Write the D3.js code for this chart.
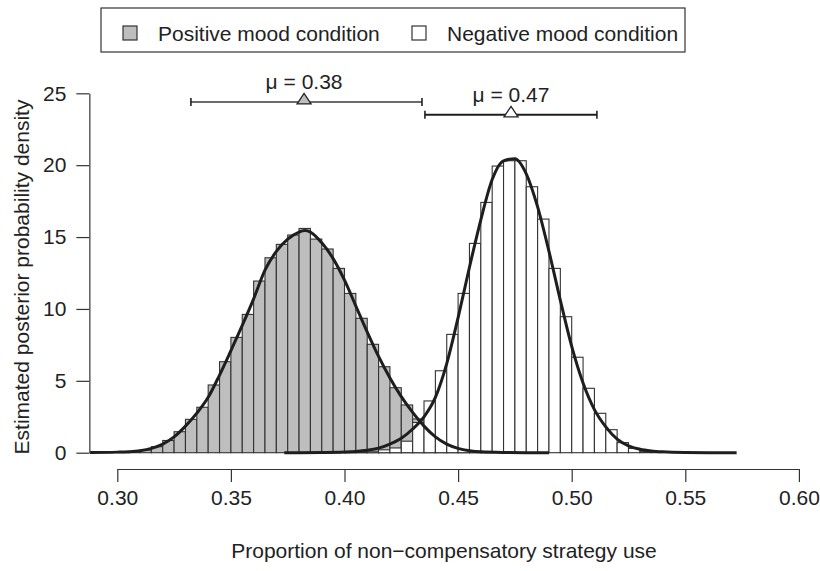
<!DOCTYPE html>
<meta charset="utf-8">
<script src="https://cdn.jsdelivr.net/npm/d3@7"></script>
<style>
	body{margin:0;background:#fff;}
	svg{font-family:"Liberation Sans",Arial,Helvetica,sans-serif;}
	.axis text{font-size:21px;fill:#222;}
	.axis path,.axis line{stroke:#333;stroke-width:1.2;}
</style>
<div id="chart"></div>
<script>
var width = 820
var height = 571

// histogram bins (left edges), width 0.005
var binWidth = 0.005
var posBins = [0.300,0.305,0.310,0.315,0.320,0.325,0.330,0.335,0.340,0.345,0.350,0.355,0.360,0.365,0.370,0.375,0.380,0.385,0.390,0.395,0.400,0.405,0.410,0.415,0.420,0.425,0.430,0.435,0.440,0.445,0.450,0.455,0.460]
var posHeights = [0.03,0.08,0.18,0.42,0.85,1.46,2.32,3.16,4.71,6.33,8.02,9.62,11.94,13.56,14.49,15.14,15.60,14.86,14.17,12.82,11.08,9.35,7.54,5.98,4.52,3.32,2.35,1.4,0.8,0.4,0.2,0.08,0.03]
var negBins = [0.400,0.405,0.410,0.415,0.420,0.425,0.430,0.435,0.440,0.445,0.450,0.455,0.460,0.465,0.470,0.475,0.480,0.485,0.490,0.495,0.500,0.505,0.510,0.515,0.520,0.525,0.530,0.535]
var negHeights = [0.03,0.06,0.10,0.20,0.33,0.80,2.10,3.60,5.70,8.23,11.08,14.56,17.41,19.94,20.31,20.31,18.50,16.25,12.82,9.46,6.64,4.48,2.74,1.60,0.70,0.30,0.07,0.02]

// smoothed density lines
var posCurveX = [0.288,0.300,0.305,0.310,0.315,0.320,0.325,0.330,0.335,0.340,0.345,0.350,0.355,0.360,0.365,0.370,0.375,0.380,0.3825,0.385,0.390,0.395,0.400,0.405,0.410,0.415,0.420,0.425,0.430,0.435,0.440,0.445,0.450,0.455,0.460,0.470,0.480,0.490]
var posCurveY = [0.01,0.04,0.07,0.14,0.30,0.60,1.10,1.85,2.75,3.85,5.40,7.10,8.85,10.70,12.70,14.00,14.85,15.35,15.45,15.35,14.60,13.50,12.00,10.20,8.40,6.70,5.20,3.90,2.80,1.85,1.10,0.60,0.30,0.14,0.06,0.015,0.003,0]
var negCurveX = [0.3735,0.380,0.390,0.400,0.405,0.410,0.415,0.420,0.425,0.430,0.435,0.440,0.445,0.450,0.455,0.460,0.465,0.470,0.475,0.480,0.485,0.490,0.495,0.500,0.505,0.510,0.515,0.520,0.525,0.530,0.535,0.540,0.550,0.560,0.5726]
var negCurveY = [0,0.003,0.015,0.05,0.09,0.17,0.32,0.60,1.00,1.65,2.50,3.85,6.20,9.40,12.90,16.20,19.00,20.30,20.45,19.40,17.10,14.00,10.60,7.40,4.85,3.00,1.80,0.95,0.48,0.24,0.12,0.06,0.015,0.004,0]

// posterior means and intervals
var conditions = ["Positive mood condition","Negative mood condition"]
var means = [0.3822,0.4733]
var lower = [0.3324,0.4354]
var upper = [0.4341,0.5111]
var barLevel = [24.4,23.5]
var meanLabels = ["μ = 0.38","μ = 0.47"]
var fills = ["#bebebe","#ffffff"]

var xTicks = [0.30,0.35,0.40,0.45,0.50,0.55,0.60]
var yTicks = [0,5,10,15,20,25]

var x = d3.scaleLinear().domain([0.30,0.60]).range([117.3,798.9])
var y = d3.scaleLinear().domain([0,25]).range([452.7,93.3])

var svg = d3.select("#chart").append("svg")
	.attr("width",width)
	.attr("height",height)

svg.append("defs").append("clipPath").attr("id","plotclip")
	.append("rect").attr("x",x(0.288)).attr("y",60).attr("width",x(0.612)-x(0.288)).attr("height",410)

function drawHist(bins,heights,fill){
	svg.append("g")
		.selectAll("rect")
		.data(bins)
		.enter()
		.append("rect")
		.attr("x",function(d){return x(d)})
		.attr("width",function(d){return x(d+binWidth)-x(d)})
		.attr("y",function(d,i){return y(heights[i])})
		.attr("height",function(d,i){return y(0)-y(heights[i])})
		.attr("fill",fill)
		.attr("stroke","#333")
		.attr("stroke-width",1.1)
}
drawHist(posBins,posHeights,fills[0])
drawHist(negBins,negHeights,fills[1])

var line = d3.line()
	.x(function(d){return x(d[0])})
	.y(function(d){return y(d[1])})
	.curve(d3.curveMonotoneX)

function drawCurve(xs,ys){
	var pts = xs.map(function(v,i){return [v,ys[i]]})
	svg.append("path")
		.attr("d",line(pts))
		.attr("clip-path","url(#plotclip)")
		.attr("fill","none")
		.attr("stroke","#1e1e1e")
		.attr("stroke-width",3)
		.attr("stroke-linejoin","round")
}
drawCurve(posCurveX,posCurveY)
drawCurve(negCurveX,negCurveY)

// axes
var yAxis = d3.axisLeft(y).tickValues(yTicks).tickSize(13).tickSizeOuter(0).tickPadding(10)
svg.append("g").attr("class","axis").attr("transform","translate("+x(0.2877)+",0)").call(yAxis)

var xAxis = d3.axisBottom(x).tickValues(xTicks).tickSize(13).tickSizeOuter(0).tickPadding(8)
	.tickFormat(d3.format(".2f"))
svg.append("g").attr("class","axis").attr("transform","translate(0,469)").call(xAxis)

svg.append("text")
	.attr("x",444).attr("y",558)
	.attr("text-anchor","middle")
	.style("font-size","21px").attr("fill","#222")
	.text("Proportion of non\u2212compensatory strategy use")

svg.append("text")
	.attr("transform","translate(29,277) rotate(-90)")
	.attr("text-anchor","middle")
	.style("font-size","21px").attr("fill","#222")
	.text("Estimated posterior probability density")

// mean markers with intervals
for(var i=0;i<2;i++){
	var g = svg.append("g")
	var by = y(barLevel[i])
	g.append("line")
		.attr("x1",x(lower[i])).attr("x2",x(upper[i]))
		.attr("y1",by).attr("y2",by)
		.attr("stroke",i==0?"#3a3a3a":"#1e1e1e").attr("stroke-width",i==0?1.6:2)
	var ends = [lower[i],upper[i]]
	ends.forEach(function(e){
		g.append("line")
			.attr("x1",x(e)).attr("x2",x(e))
			.attr("y1",by-4).attr("y2",by+4)
			.attr("stroke","#222").attr("stroke-width",1.6)
	})
	var mx = x(means[i])
	g.append("path")
		.attr("d","M"+(mx-7)+","+(by+2)+"L"+(mx+7)+","+(by+2)+"L"+mx+","+(by-8.5)+"Z")
		.attr("fill",fills[i]).attr("stroke","#222").attr("stroke-width",1.3)
	g.append("text")
		.attr("x",mx).attr("y",by-13)
		.attr("text-anchor","middle")
		.style("font-size","21px").attr("fill","#222")
		.text(meanLabels[i])
}

// legend
var legend = svg.append("g")
legend.append("rect")
	.attr("x",101).attr("y",8).attr("width",584).attr("height",44)
	.attr("fill","#fff").attr("stroke","#333").attr("stroke-width",1.2)
var legX = [130,419]
for(var j=0;j<2;j++){
	legend.append("rect")
		.attr("x",legX[j]-7).attr("y",26).attr("width",14).attr("height",14)
		.attr("fill",fills[j]).attr("stroke","#333").attr("stroke-width",1.2)
	legend.append("text")
		.attr("x",legX[j]+28).attr("y",41)
		.style("font-size","21px").attr("fill","#222")
		.text(conditions[j])
}
</script>
